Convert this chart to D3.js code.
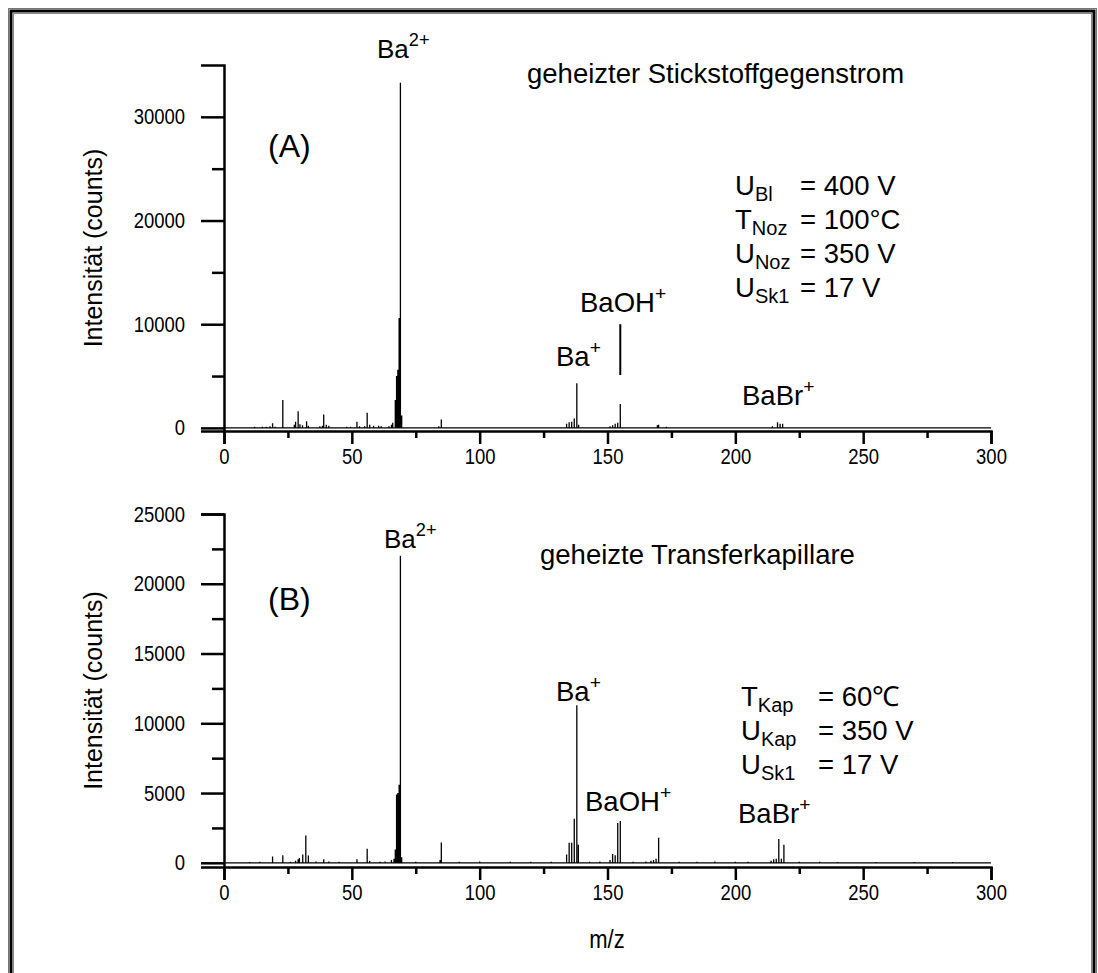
<!DOCTYPE html>
<html><head><meta charset="utf-8">
<script src="https://cdn.jsdelivr.net/npm/d3@7"></script>
<style>
body{margin:0;background:#fff;}
svg text{font-family:"Liberation Sans",Arial,sans-serif;fill:#000;}
</style></head>
<body><svg id="c" width="1098" height="973"></svg>
<script>
// ---- data ----
const mzA  = [12,15,16.5,18,19,20,23,27.5,28,29,29.7,30.7,32.3,33,37.5,38.5,39,40,41,48,49.5,52,53,55,56,57,58.5,60.5,61.5,64.5,65.5,66,67,67.5,68,68.5,69,69.5,84,85,134,135,136,137,138,138.7,151,152,153,154,155,169.5,170,173,214.5,216.5,217.5,218.5];
const intA = [100,120,100,150,450,100,2700,300,600,1600,350,250,650,200,150,200,1300,300,200,100,100,600,150,150,1450,300,200,200,150,150,300,500,2700,5000,5600,10600,33300,1200,150,800,400,550,600,900,4300,300,150,250,400,500,2300,250,300,100,150,550,400,400];

const mzB  = [10,14,19,23,26,28,29,29.5,30.8,32,33,36,39,41,45,52,56,57,61,63,65.5,66.5,67,67.5,68,68.5,69,69.5,75,84.5,85,92,100,112,120,128,134,135,136,137,138,138.6,143,147,151,152,153,154,155,160,165,167,168,169,170,178,185,192,200,205,214,215,216,217,218,219,225,233,240,255,270,285];
const intB = [60,80,450,550,80,150,250,350,600,1950,520,90,250,100,80,250,1000,150,70,90,200,300,950,4900,5000,5600,22000,400,80,200,1450,70,90,70,80,70,600,1430,1430,3150,11300,1300,80,90,200,640,550,2850,3000,80,90,150,200,300,1800,80,70,90,80,70,150,250,300,1700,300,1300,80,70,60,60,60,60];

const xTicks = [0,50,100,150,200,250,300];
const yTicksA = [0,10000,20000,30000];
const yTicksB = [0,5000,10000,15000,20000,25000];

const svg = d3.select("#c");
const FS = 27.5;

// frame
svg.append("rect").attr("x",8.5).attr("y",8.5).attr("width",1088).attr("height",1000)
  .attr("fill","none").attr("stroke","#777").attr("stroke-width",1);
svg.append("rect").attr("x",11).attr("y",11).attr("width",1083).attr("height",1000)
  .attr("fill","none").attr("stroke","#000").attr("stroke-width",3);
svg.append("rect").attr("x",13.5).attr("y",13.5).attr("width",1078).attr("height",1000)
  .attr("fill","none").attr("stroke","#888").attr("stroke-width",1);

function panel(cfg){
  const x = d3.scaleLinear().domain([0,300]).range([224,991]);
  const y = d3.scaleLinear().domain(cfg.ydom).range(cfg.yrange);
  const g = svg.append("g");
  const y0 = cfg.yrange[0];
  const pts = [[0,0]];
  cfg.mz.forEach((m,i)=>{pts.push([m,0],[m,cfg.int[i]],[m,0]);});
  pts.push([300,0]);
  g.append("path").attr("d", d3.line().x(d=>x(d[0])).y(d=>y(d[1]))(pts))
    .attr("fill","none").attr("stroke","#000").attr("stroke-width",1.3);
  // x axis
  g.append("g").attr("transform",`translate(0,${y0})`)
    .call(d3.axisBottom(x).tickValues(xTicks).tickSize(13).tickPadding(4).tickFormat(d3.format("d")));
  g.append("g").attr("transform",`translate(0,${y0})`)
    .call(d3.axisBottom(x).tickValues(d3.range(25,300,50)).tickSize(7).tickFormat(""))
    .select(".domain").remove();
  // y axis
  g.append("g").attr("transform",`translate(224,0)`)
    .call(d3.axisLeft(y).tickValues(cfg.yticks).tickSize(23).tickPadding(16).tickFormat(d3.format("d")));
  g.append("g").attr("transform",`translate(224,0)`)
    .call(d3.axisLeft(y).tickValues(cfg.yminor).tickSize(12).tickFormat(""))
    .select(".domain").remove();
  g.selectAll(".domain").attr("stroke-width",2.5);
  g.selectAll(".tick line").attr("stroke-width",2.5);
  g.selectAll(".tick text").attr("font-size",22).attr("font-family","Liberation Sans, Arial, sans-serif");
  g.selectAll(".tick text").each(function(){
    const t = d3.select(this);
    const xx = +t.attr("x") || 0;
    t.attr("x",0).attr("transform",`translate(${xx},0) scale(0.84,1)`);
  });
  g.append("text").attr("transform",`translate(102,${(cfg.yrange[0]+cfg.yrange[1])/2}) rotate(-90)`)
    .attr("text-anchor","middle").attr("font-size",25).text("Intensität (counts)");
  return {x,y,g};
}

function sup(g,x,y,base,s,size){
  size = size||FS;
  const t = g.append("text").attr("x",x).attr("y",y).attr("font-size",size);
  t.append("tspan").text(base);
  t.append("tspan").attr("dy",-size*0.45).attr("font-size",size*0.7).text(s);
  return t;
}
function sub(g,x,y,base,s,rest,restX){
  const t = g.append("text").attr("x",x).attr("y",y).attr("font-size",FS);
  t.append("tspan").text(base);
  t.append("tspan").attr("dy",6).attr("font-size",20).text(s);
  g.append("text").attr("x",restX).attr("y",y).attr("font-size",FS).text(rest);
}

// panel A
const A = panel({mz:mzA,int:intA,ydom:[-300,35000],yrange:[431,65],yticks:yTicksA,yminor:[5000,15000,25000]});
sup(A.g,377,58,"Ba","2+",26);
A.g.append("text").attr("x",527).attr("y",83).attr("font-size",FS).text("geheizter Stickstoffgegenstrom");
A.g.append("text").attr("x",268).attr("y",157).attr("font-size",32).text("(A)");
sub(A.g,735,195,"U","Bl","= 400 V",800);
sub(A.g,735,229,"T","Noz","= 100°C",800);
sub(A.g,735,263,"U","Noz","= 350 V",800);
sub(A.g,735,297,"U","Sk1","= 17 V",800);
sup(A.g,580,312,"BaOH","+");
A.g.append("line").attr("x1",A.x(155)).attr("x2",A.x(155)).attr("y1",A.y(10000)).attr("y2",A.y(5100))
  .attr("stroke","#000").attr("stroke-width",2);
sup(A.g,556,366,"Ba","+");
sup(A.g,742,405,"BaBr","+");

// panel B
const B = panel({mz:mzB,int:intB,ydom:[-300,25000],yrange:[867,514],yticks:yTicksB,yminor:[2500,7500,12500,17500,22500]});
sup(B.g,384,548,"Ba","2+",26);
B.g.append("text").attr("x",540).attr("y",564).attr("font-size",FS).text("geheizte Transferkapillare");
B.g.append("text").attr("x",268).attr("y",610).attr("font-size",32).text("(B)");
sub(B.g,741,706,"T","Kap","= 60℃",818);
sub(B.g,741,740,"U","Kap","= 350 V",818);
sub(B.g,741,774,"U","Sk1","= 17 V",818);
sup(B.g,556,701,"Ba","+");
sup(B.g,585,811,"BaOH","+");
sup(B.g,738,823,"BaBr","+");
svg.append("text").attr("x",607).attr("y",948).attr("text-anchor","middle").attr("font-size",25)
  .attr("transform","translate(607,0) scale(0.88,1) translate(-607,0)").text("m/z");
</script></body></html>
